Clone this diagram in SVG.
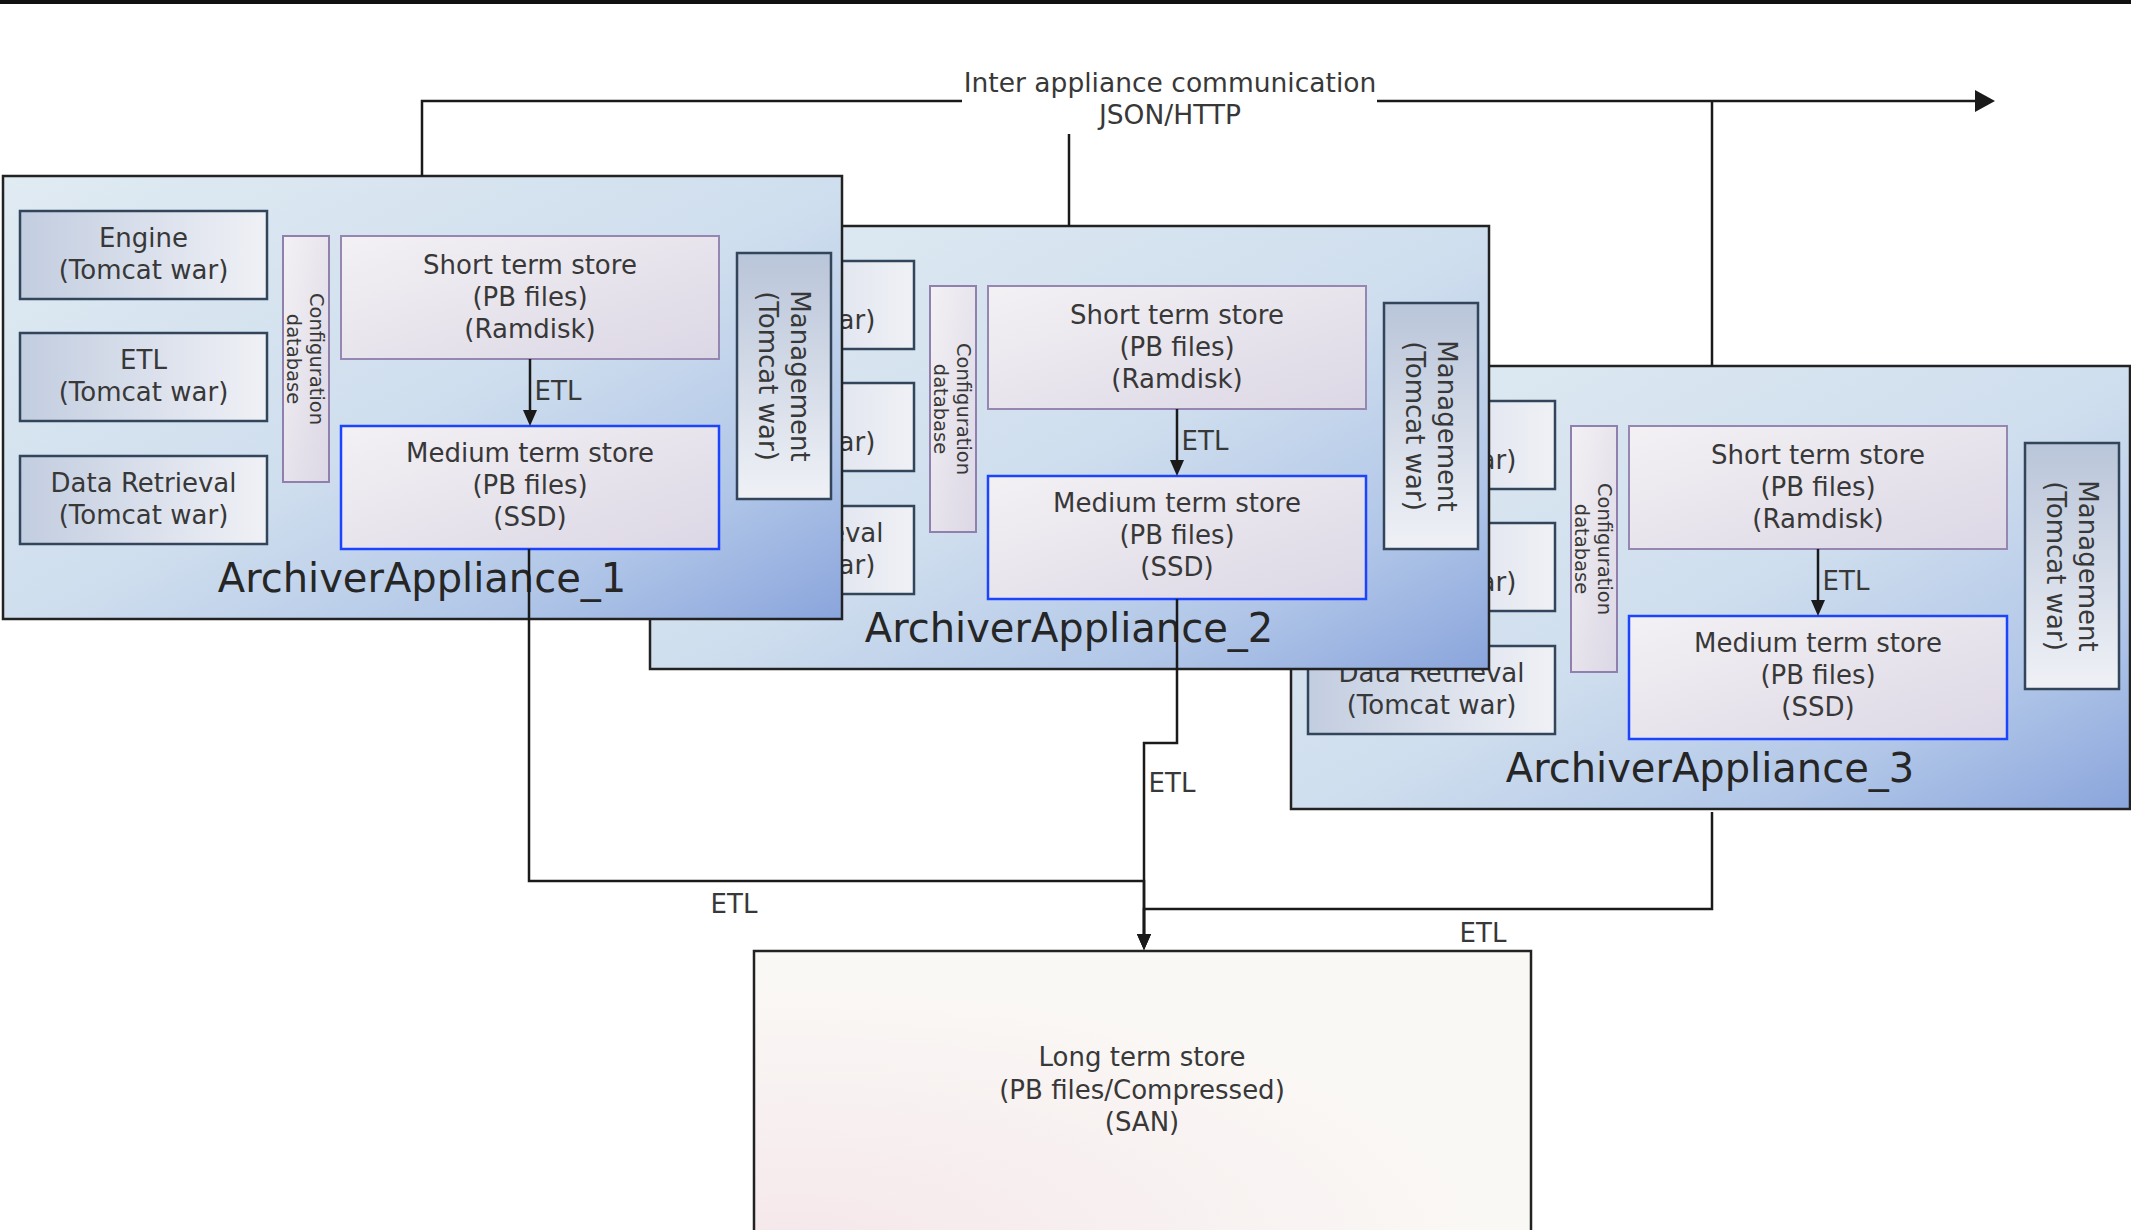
<svg xmlns="http://www.w3.org/2000/svg" width="2131" height="1230" viewBox="0 0 2131 1230">
<style>
  .t{font-family:"DejaVu Sans",Verdana,sans-serif;font-size:26px;fill:#383838;text-anchor:middle}
  .title{font-size:40px;fill:#262626}
  .cfg{font-size:19.5px}
  .app{fill:url(#gApp);stroke:#222;stroke-width:2.5}
  .war{fill:url(#gWar);stroke:#33455b;stroke-width:2.5}
  .mgmt{fill:url(#gMgmt);stroke:#33455b;stroke-width:2.5}
  .store{fill:url(#gStore);stroke:#9686b2;stroke-width:2}
  .med{fill:url(#gStore);stroke:#1c44ff;stroke-width:2.5}
  .db{fill:url(#gStore);stroke:#9080ae;stroke-width:2}
  .long{fill:url(#gLong);stroke:#222;stroke-width:2.5}
  .wire{fill:none;stroke:#1a1a1a;stroke-width:2.5}
</style>
<defs>
  <linearGradient id="gApp" x1="0" y1="0" x2="1" y2="1">
    <stop offset="0" stop-color="#e0ebf2"/>
    <stop offset="0.52" stop-color="#cfdeee"/>
    <stop offset="0.78" stop-color="#b2c7e8"/>
    <stop offset="1" stop-color="#8aa5dc"/>
  </linearGradient>
  <linearGradient id="gWar" x1="0" y1="0" x2="1" y2="0">
    <stop offset="0" stop-color="#c2cde0"/>
    <stop offset="1" stop-color="#f0f1f6"/>
  </linearGradient>
  <linearGradient id="gMgmt" x1="0" y1="0" x2="0" y2="1">
    <stop offset="0" stop-color="#b9c5d9"/>
    <stop offset="1" stop-color="#eff1f6"/>
  </linearGradient>
  <linearGradient id="gStore" x1="0" y1="0" x2="1" y2="1">
    <stop offset="0" stop-color="#f3f1f4"/>
    <stop offset="1" stop-color="#dcd7e5"/>
  </linearGradient>
  <radialGradient id="gLong" cx="0.05" cy="1" r="0.9">
    <stop offset="0" stop-color="#f5e7eb"/>
    <stop offset="1" stop-color="#faf8f5"/>
  </radialGradient>
  <marker id="aEtl" markerUnits="userSpaceOnUse" markerWidth="16" markerHeight="14" refX="10" refY="7" orient="auto">
    <path d="M0,0 L16,7 L0,14 z" fill="#1a1a1a"/>
  </marker>
  <marker id="aComm" markerUnits="userSpaceOnUse" markerWidth="20" markerHeight="22" refX="10" refY="11" orient="auto">
    <path d="M0,0 L20,11 L0,22 z" fill="#1a1a1a"/>
  </marker>
</defs>

<rect x="0" y="0" width="2131" height="4" fill="#111"/>

<!-- Appliance 3 (back) -->
<g id="appliance3" transform="translate(1288,190)">
  <rect class="app" x="3" y="176" width="839" height="443"/>
  <g id="a3-engine"><rect class="war" x="20" y="211" width="247" height="88"/><text class="t" x="143.5" y="246.5">Engine</text><text class="t" x="143.5" y="278.5">(Tomcat war)</text></g>
  <g id="a3-etl"><rect class="war" x="20" y="333" width="247" height="88"/><text class="t" x="143.5" y="368.5">ETL</text><text class="t" x="143.5" y="400.5">(Tomcat war)</text></g>
  <g id="a3-retrieval"><rect class="war" x="20" y="456" width="247" height="88"/><text class="t" x="143.5" y="491.5">Data Retrieval</text><text class="t" x="143.5" y="523.5">(Tomcat war)</text></g>
  <g id="a3-config"><rect class="db" x="283" y="236" width="46" height="246"/><g transform="translate(306,359) rotate(90)"><text class="t cfg" x="0" y="-4">Configuration</text><text class="t cfg" x="0" y="19">database</text></g></g>
  <g id="a3-short"><rect class="store" x="341" y="236" width="378" height="123"/><text class="t" x="530" y="273.5">Short term store</text><text class="t" x="530" y="305.5">(PB files)</text><text class="t" x="530" y="337.5">(Ramdisk)</text></g>
  <g id="a3-medium"><rect class="med" x="341" y="426" width="378" height="123"/><text class="t" x="530" y="462">Medium term store</text><text class="t" x="530" y="494">(PB files)</text><text class="t" x="530" y="526">(SSD)</text></g>
  <g id="a3-mgmt"><rect class="mgmt" x="737" y="253" width="94" height="246"/><g transform="translate(784,376) rotate(90)"><text class="t" x="0" y="-7">Management</text><text class="t" x="0" y="25">(Tomcat war)</text></g></g>
  <text class="t title" x="422" y="592">ArchiverAppliance_3</text>
</g>

<!-- Appliance 2 (middle) -->
<g id="appliance2" transform="translate(647,50)">
  <rect class="app" x="3" y="176" width="839" height="443"/>
  <g id="a2-engine"><rect class="war" x="20" y="211" width="247" height="88"/><text class="t" x="143.5" y="246.5">Engine</text><text class="t" x="143.5" y="278.5">(Tomcat war)</text></g>
  <g id="a2-etl"><rect class="war" x="20" y="333" width="247" height="88"/><text class="t" x="143.5" y="368.5">ETL</text><text class="t" x="143.5" y="400.5">(Tomcat war)</text></g>
  <g id="a2-retrieval"><rect class="war" x="20" y="456" width="247" height="88"/><text class="t" x="143.5" y="491.5">Data Retrieval</text><text class="t" x="143.5" y="523.5">(Tomcat war)</text></g>
  <g id="a2-config"><rect class="db" x="283" y="236" width="46" height="246"/><g transform="translate(306,359) rotate(90)"><text class="t cfg" x="0" y="-4">Configuration</text><text class="t cfg" x="0" y="19">database</text></g></g>
  <g id="a2-short"><rect class="store" x="341" y="236" width="378" height="123"/><text class="t" x="530" y="273.5">Short term store</text><text class="t" x="530" y="305.5">(PB files)</text><text class="t" x="530" y="337.5">(Ramdisk)</text></g>
  <g id="a2-medium"><rect class="med" x="341" y="426" width="378" height="123"/><text class="t" x="530" y="462">Medium term store</text><text class="t" x="530" y="494">(PB files)</text><text class="t" x="530" y="526">(SSD)</text></g>
  <g id="a2-mgmt"><rect class="mgmt" x="737" y="253" width="94" height="246"/><g transform="translate(784,376) rotate(90)"><text class="t" x="0" y="-7">Management</text><text class="t" x="0" y="25">(Tomcat war)</text></g></g>
  <text class="t title" x="422" y="592">ArchiverAppliance_2</text>
</g>

<!-- Appliance 1 (front) -->
<g id="appliance1">
  <rect class="app" x="3" y="176" width="839" height="443"/>
  <g id="a1-engine"><rect class="war" x="20" y="211" width="247" height="88"/><text class="t" x="143.5" y="246.5">Engine</text><text class="t" x="143.5" y="278.5">(Tomcat war)</text></g>
  <g id="a1-etl"><rect class="war" x="20" y="333" width="247" height="88"/><text class="t" x="143.5" y="368.5">ETL</text><text class="t" x="143.5" y="400.5">(Tomcat war)</text></g>
  <g id="a1-retrieval"><rect class="war" x="20" y="456" width="247" height="88"/><text class="t" x="143.5" y="491.5">Data Retrieval</text><text class="t" x="143.5" y="523.5">(Tomcat war)</text></g>
  <g id="a1-config"><rect class="db" x="283" y="236" width="46" height="246"/><g transform="translate(306,359) rotate(90)"><text class="t cfg" x="0" y="-4">Configuration</text><text class="t cfg" x="0" y="19">database</text></g></g>
  <g id="a1-short"><rect class="store" x="341" y="236" width="378" height="123"/><text class="t" x="530" y="273.5">Short term store</text><text class="t" x="530" y="305.5">(PB files)</text><text class="t" x="530" y="337.5">(Ramdisk)</text></g>
  <g id="a1-medium"><rect class="med" x="341" y="426" width="378" height="123"/><text class="t" x="530" y="462">Medium term store</text><text class="t" x="530" y="494">(PB files)</text><text class="t" x="530" y="526">(SSD)</text></g>
  <g id="a1-mgmt"><rect class="mgmt" x="737" y="253" width="94" height="246"/><g transform="translate(784,376) rotate(90)"><text class="t" x="0" y="-7">Management</text><text class="t" x="0" y="25">(Tomcat war)</text></g></g>
  <text class="t title" x="422" y="592">ArchiverAppliance_1</text>
</g>

<!-- Long term store -->
<g id="longterm">
  <rect class="long" x="754" y="951" width="777" height="300"/>
  <text class="t" x="1142" y="1066">Long term store</text>
  <text class="t" x="1142" y="1099">(PB files/Compressed)</text>
  <text class="t" x="1142" y="1131">(SAN)</text>
</g>

<!-- Connectors -->
<g id="connectors">
  <path class="wire" d="M422,176 V101 H1985" marker-end="url(#aComm)"/>
  <path class="wire" d="M1069,226 V101"/>
  <path class="wire" d="M1712,366 V101"/>
  <path class="wire" d="M530,359 V420" marker-end="url(#aEtl)"/>
  <path class="wire" d="M1177,409 V470" marker-end="url(#aEtl)"/>
  <path class="wire" d="M1818,549 V610" marker-end="url(#aEtl)"/>
  <text class="t" x="558" y="400">ETL</text>
  <text class="t" x="1205" y="450">ETL</text>
  <text class="t" x="1846" y="590">ETL</text>
  <path class="wire" d="M529,549 V881 H1144 V944" marker-end="url(#aEtl)"/>
  <path class="wire" d="M1177,599 V743 H1144 V944" marker-end="url(#aEtl)"/>
  <path class="wire" d="M1712,812 V909 H1144 V944" marker-end="url(#aEtl)"/>
  <text class="t" x="1172" y="792">ETL</text>
  <text class="t" x="734" y="913">ETL</text>
  <text class="t" x="1483" y="942">ETL</text>
  <g id="comm-label">
    <rect x="962" y="68" width="415" height="66" fill="#fff"/>
    <text class="t" x="1170" y="92" style="font-size:26.5px">Inter appliance communication</text>
    <text class="t" x="1170" y="124" style="font-size:26.5px">JSON/HTTP</text>
  </g>
</g>
</svg>
